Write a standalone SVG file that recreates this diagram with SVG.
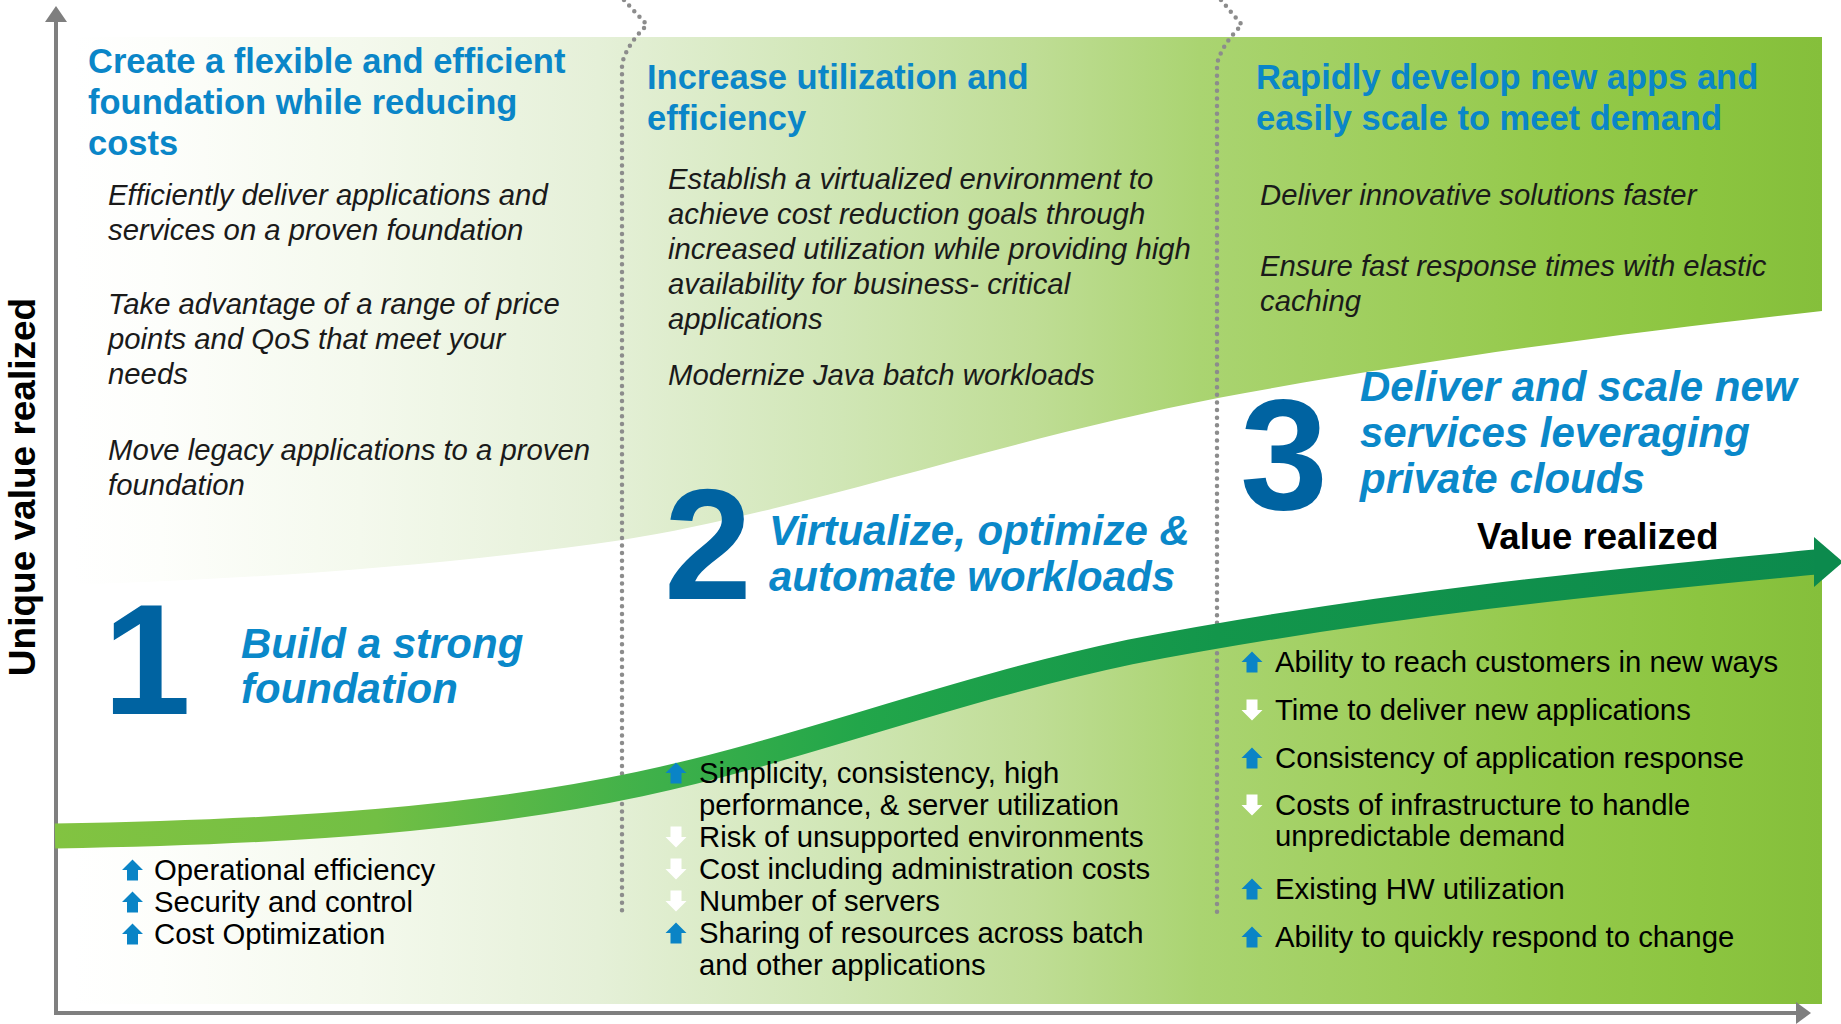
<svg xmlns="http://www.w3.org/2000/svg" xmlns:xlink="http://www.w3.org/1999/xlink" width="1841" height="1024" viewBox="0 0 1841 1024">
<style>
.h{font-family:"Liberation Sans",Arial,sans-serif;font-weight:bold;font-size:34.5px;fill:#0a86c8}
.b{font-family:"Liberation Sans",Arial,sans-serif;font-style:italic;font-size:29.3px;fill:#1a1a1a}
.t{font-family:"Liberation Sans",Arial,sans-serif;font-size:29.3px;fill:#000}
.big{font-family:"Liberation Sans",Arial,sans-serif;font-weight:bold;font-size:158px;fill:#0063a1}
.sub{font-family:"Liberation Sans",Arial,sans-serif;font-weight:bold;font-style:italic;font-size:42px;fill:#0a88c9}
.ax{font-family:"Liberation Sans",Arial,sans-serif;font-weight:bold;font-size:37px;fill:#000}
.blue{fill:#0a84c6}
.white{fill:#ffffff}
.dots{fill:none;stroke:#8c8c8c;stroke-width:4.5;stroke-linecap:round;stroke-dasharray:0 7.6}
.axis{stroke:#7f7f7f;stroke-width:4;fill:none}
</style>
<defs>
<linearGradient id="bg" gradientUnits="userSpaceOnUse" x1="73" y1="0" x2="1822" y2="0">
<stop offset="0" stop-color="#ffffff"/>
<stop offset="0.05" stop-color="#fdfefb"/>
<stop offset="0.164" stop-color="#f4f9ed"/>
<stop offset="0.30" stop-color="#e5f0d8"/>
<stop offset="0.44" stop-color="#d0e6b5"/>
<stop offset="0.55" stop-color="#bfdd95"/>
<stop offset="0.644" stop-color="#aad471"/>
<stop offset="0.85" stop-color="#94c94a"/>
<stop offset="0.93" stop-color="#8cc540"/>
<stop offset="1" stop-color="#85bf3b"/>
</linearGradient>
<linearGradient id="band" gradientUnits="userSpaceOnUse" x1="55" y1="0" x2="1841" y2="0">
<stop offset="0" stop-color="#82c341"/>
<stop offset="0.18" stop-color="#72bf44"/>
<stop offset="0.33" stop-color="#40b14a"/>
<stop offset="0.45" stop-color="#22a64a"/>
<stop offset="0.65" stop-color="#13964b"/>
<stop offset="1" stop-color="#0c8a4d"/>
</linearGradient>
<path id="up" d="M0,-10.5 L10.5,0 L5.5,0 L5.5,10.5 L-5.5,10.5 L-5.5,0 L-10.5,0 Z"/>
<path id="down" d="M0,10.5 L10.5,0 L5.5,0 L5.5,-10.5 L-5.5,-10.5 L-5.5,0 L-10.5,0 Z"/>
</defs>

<g id="background">
<rect x="73" y="37" width="1749" height="967" fill="url(#bg)"/>
<path d="M55,585 C250,580 450,565 622,540 C800,512 1000,440 1218,398 C1450,355 1650,330 1822,311 L1841,309 L1841,562 L1815,562 C1650,578 1400,600 1130,652 C950,690 800,750 640,784 C480,818 300,832 55,836 Z" fill="#ffffff"/>
</g>

<g id="separators">
<path class="dots" d="M624,0 L647,25 Q627,44 622,64 L622,916"/>
<path class="dots" d="M1221,0 L1242,25 Q1222,44 1217,64 L1217,916"/>
</g>

<g id="axes">
<line class="axis" x1="56" y1="20" x2="56" y2="1013"/>
<polygon points="56,6 45,22 67,22" fill="#7f7f7f"/>
<line class="axis" x1="54" y1="1013" x2="1798" y2="1013"/>
<polygon points="1811,1013 1796,1002 1796,1024" fill="#7f7f7f"/>
<text class="ax" transform="translate(35,487) rotate(-90)" text-anchor="middle">Unique value realized</text>
</g>

<g id="connectors">
<path d="M55,836 C300,832 480,818 640,784 C800,750 950,690 1130,652 C1400,600 1650,578 1816,562" fill="none" stroke="url(#band)" stroke-width="25"/>
<polygon points="1814,537 1843,562 1814,587" fill="#0c8a4d"/>
<text class="ax" x="1477" y="549" style="font-size:36.5px">Value realized</text>
</g>

<g id="stage-1">
<text class="h" x="88" y="73">Create a flexible and efficient</text>
<text class="h" x="88" y="114">foundation while reducing</text>
<text class="h" x="88" y="155">costs</text>
<text class="b" x="108" y="205">Efficiently deliver applications and</text>
<text class="b" x="108" y="240">services on a proven foundation</text>
<text class="b" x="108" y="314">Take advantage of a range of price</text>
<text class="b" x="108" y="349">points and QoS that meet your</text>
<text class="b" x="108" y="384">needs</text>
<text class="b" x="108" y="460">Move legacy applications to a proven</text>
<text class="b" x="108" y="495">foundation</text>
<text class="big" x="103" y="714">1</text>
<text class="sub" x="241" y="658">Build a strong</text>
<text class="sub" x="241" y="703">foundation</text>
<use href="#up" x="132.5" y="870" class="blue"/>
<use href="#up" x="132.5" y="902" class="blue"/>
<use href="#up" x="132.5" y="934" class="blue"/>
<text class="t" x="154" y="880">Operational efficiency</text>
<text class="t" x="154" y="912">Security and control</text>
<text class="t" x="154" y="944">Cost Optimization</text>
</g>

<g id="stage-2">
<text class="h" x="647" y="89">Increase utilization and</text>
<text class="h" x="647" y="130">efficiency</text>
<text class="b" x="668" y="189">Establish a virtualized environment to</text>
<text class="b" x="668" y="224">achieve cost reduction goals through</text>
<text class="b" x="668" y="259">increased utilization while providing high</text>
<text class="b" x="668" y="294">availability for business- critical</text>
<text class="b" x="668" y="329">applications</text>
<text class="b" x="668" y="385">Modernize Java batch workloads</text>
<text class="big" x="664" y="599">2</text>
<text class="sub" x="769" y="545">Virtualize, optimize &amp;</text>
<text class="sub" x="769" y="591">automate workloads</text>
<use href="#up" x="676" y="773" class="blue"/>
<use href="#down" x="676" y="837" class="white"/>
<use href="#down" x="676" y="869" class="white"/>
<use href="#down" x="676" y="901" class="white"/>
<use href="#up" x="676" y="933" class="blue"/>
<text class="t" x="699" y="783">Simplicity, consistency, high</text>
<text class="t" x="699" y="815">performance, &amp; server utilization</text>
<text class="t" x="699" y="847">Risk of unsupported environments</text>
<text class="t" x="699" y="879">Cost including administration costs</text>
<text class="t" x="699" y="911">Number of servers</text>
<text class="t" x="699" y="943">Sharing of resources across batch</text>
<text class="t" x="699" y="975">and other applications</text>
</g>

<g id="stage-3">
<text class="h" x="1256" y="89">Rapidly develop new apps and</text>
<text class="h" x="1256" y="130">easily scale to meet demand</text>
<text class="b" x="1260" y="205">Deliver innovative solutions faster</text>
<text class="b" x="1260" y="276">Ensure fast response times with elastic</text>
<text class="b" x="1260" y="311">caching</text>
<text class="big" x="1240" y="509">3</text>
<text class="sub" x="1360" y="401">Deliver and scale new</text>
<text class="sub" x="1360" y="447">services leveraging</text>
<text class="sub" x="1360" y="493">private clouds</text>
<use href="#up" x="1252" y="662" class="blue"/>
<use href="#down" x="1252" y="710" class="white"/>
<use href="#up" x="1252" y="758" class="blue"/>
<use href="#down" x="1252" y="805" class="white"/>
<use href="#up" x="1252" y="889" class="blue"/>
<use href="#up" x="1252" y="937" class="blue"/>
<text class="t" x="1275" y="672">Ability to reach customers in new ways</text>
<text class="t" x="1275" y="720">Time to deliver new applications</text>
<text class="t" x="1275" y="768">Consistency of application response</text>
<text class="t" x="1275" y="815">Costs of infrastructure to handle</text>
<text class="t" x="1275" y="846">unpredictable demand</text>
<text class="t" x="1275" y="899">Existing HW utilization</text>
<text class="t" x="1275" y="947">Ability to quickly respond to change</text>
</g>
</svg>
